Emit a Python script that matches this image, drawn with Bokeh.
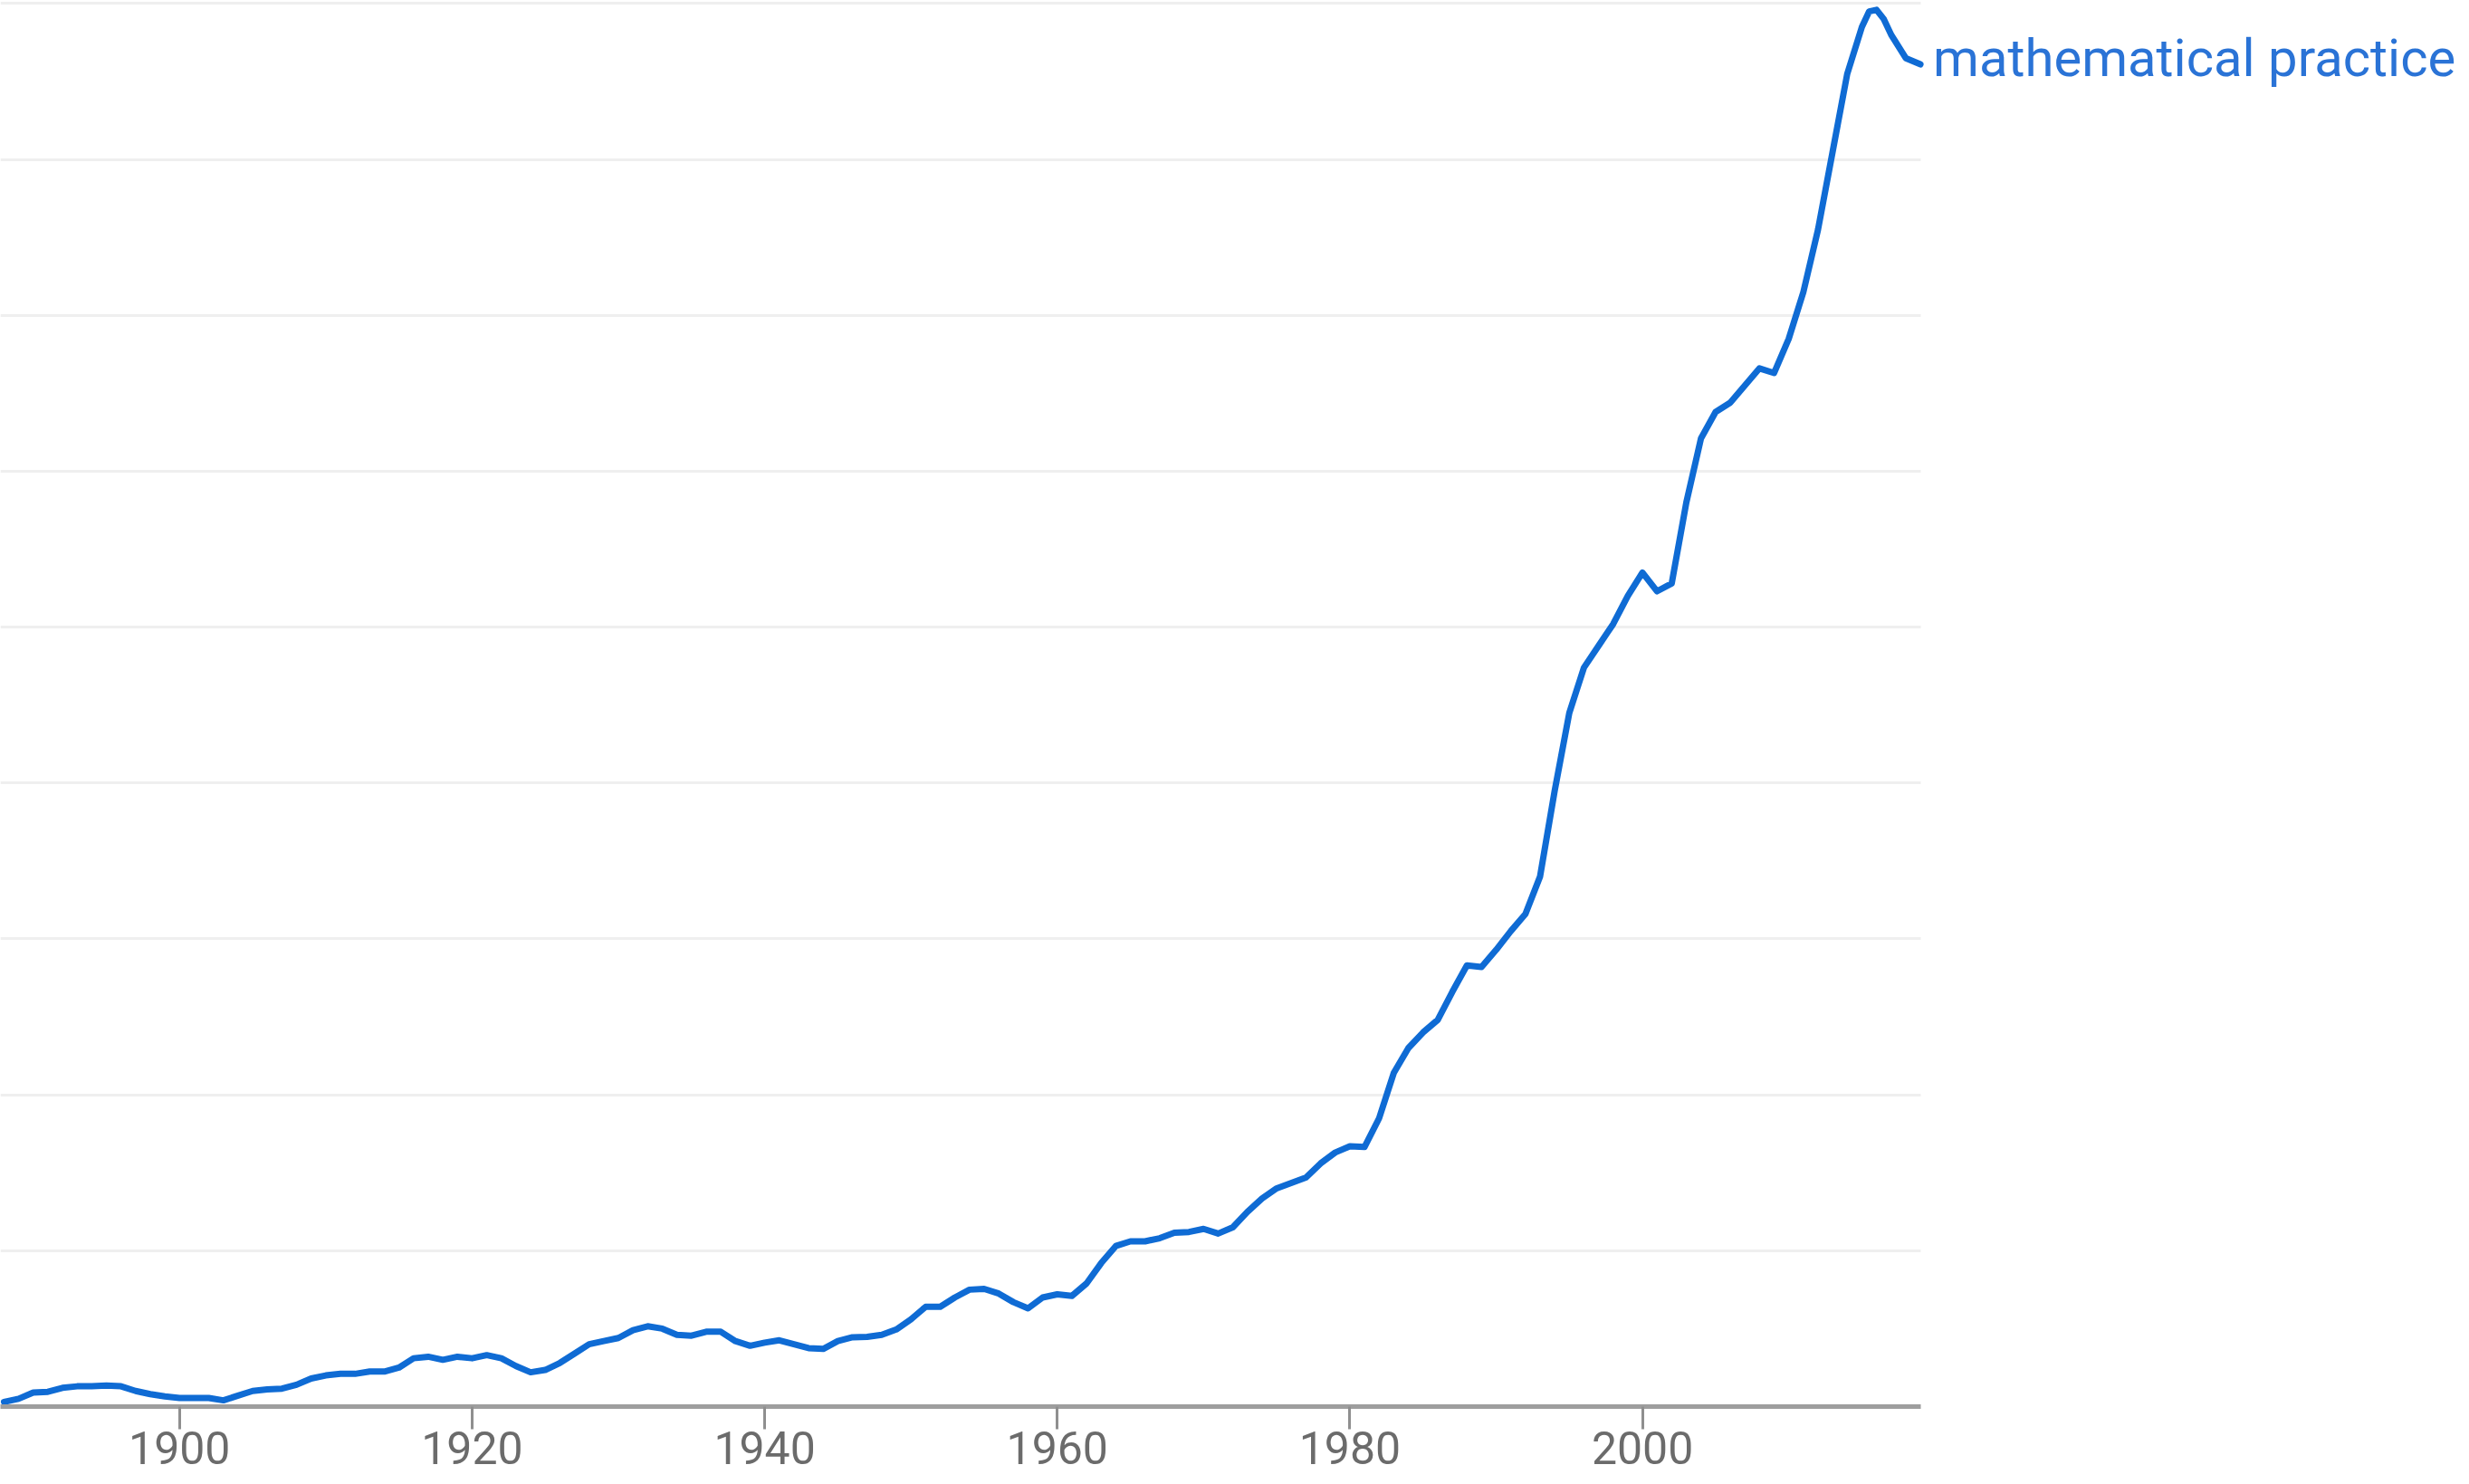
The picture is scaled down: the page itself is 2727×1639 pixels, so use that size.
from bokeh.plotting import figure
from bokeh.models import FixedTicker, Range1d
from bokeh.core.properties import value
from bokeh.embed import file_html
from bokeh.resources import INLINE

# ---- data (arbitrary relative units, gridline = 1) ----
years = list(range(1888, 2016)) + [2015.5, 2016, 2016.5, 2017, 2018, 2019]
values = [
    0.03, 0.05, 0.09, 0.095, 0.12, 0.13, 0.13, 0.135, 0.13, 0.10,          # 1888-1897
    0.08, 0.065, 0.055, 0.055, 0.055, 0.04, 0.07, 0.10, 0.11, 0.115,       # 1898-1907
    0.14, 0.18, 0.20, 0.21, 0.21, 0.225, 0.225, 0.25, 0.31, 0.32,          # 1908-1917
    0.30, 0.32, 0.31, 0.33, 0.31, 0.26, 0.22, 0.235, 0.28, 0.34,           # 1918-1927
    0.40, 0.42, 0.44, 0.49, 0.515, 0.50, 0.46, 0.455, 0.48, 0.48,          # 1928-1937
    0.42, 0.39, 0.41, 0.425, 0.40, 0.375, 0.37, 0.42, 0.445, 0.447,        # 1938-1947
    0.46, 0.495, 0.56, 0.64, 0.64, 0.70, 0.75, 0.755, 0.725, 0.67,         # 1948-1957
    0.63, 0.70, 0.72, 0.71, 0.79, 0.92, 1.03, 1.06, 1.06, 1.08,            # 1958-1967
    1.115, 1.12, 1.14, 1.11, 1.15, 1.25, 1.335, 1.40, 1.435, 1.47,         # 1968-1977
    1.56, 1.63, 1.67, 1.665, 1.85, 2.14, 2.30, 2.40, 2.48, 2.66,           # 1978-1987
    2.83, 2.82, 2.93, 3.05, 3.16, 3.40, 3.95, 4.45, 4.74, 4.88,            # 1988-1997
    5.02, 5.20, 5.35, 5.23, 5.28, 5.80, 6.21, 6.38, 6.44, 6.55,            # 1998-2007
    6.66, 6.63, 6.85, 7.15, 7.55, 8.05, 8.55, 8.85,                        # 2008-2015
    8.95, 8.96, 8.90, 8.80, 8.65, 8.61,                                    # 2015.5-2019
]
series_name = "mathematical practice"
x_ticks = [1900, 1920, 1940, 1960, 1980, 2000]
grid_levels = [1, 2, 3, 4, 5, 6, 7, 8, 9]

X_START, X_DATA_END, X_VIEW_END = 1887.76, 2019.0, 2056.53

LINE_COLOR = "#0f6bd4"
FONT = "Roboto"

p = figure(
    width=2727, height=1639,
    output_backend="svg", toolbar_location=None,
    x_range=Range1d(X_START, X_VIEW_END),
    y_range=Range1d(0, 9.02),
    y_axis_location=None,
    min_border_left=0, min_border_top=0, min_border_right=0,
    min_border_bottom=86,
)
p.outline_line_color = None
p.background_fill_color = "white"
p.border_fill_color = "white"

# grid
p.xgrid.grid_line_color = None
p.ygrid.ticker = FixedTicker(ticks=grid_levels)
p.ygrid.grid_line_color = "#efefef"
p.ygrid.grid_line_width = 3
p.ygrid.cross_bounds = (X_START, X_DATA_END)

# x axis
ax = p.xaxis[0]
ax.ticker = FixedTicker(ticks=x_ticks)
ax.bounds = (X_START, X_DATA_END)
ax.axis_line_color = "#9e9e9e"
ax.axis_line_width = 5
ax.major_tick_line_color = "#8f8f8f"
ax.major_tick_line_width = 3
ax.major_tick_out = 25
ax.major_tick_in = 0
ax.minor_tick_line_color = None
ax.major_label_standoff = 2
ax.major_label_text_font = FONT
ax.major_label_text_font_size = "50px"
ax.major_label_text_color = "#6b6b6b"

# the series
p.line(years, values, line_color=LINE_COLOR, line_width=7, line_join="round", line_cap="round")

p.text(
    x=[years[-1]], y=[values[-1]], text=[series_name],
    x_offset=14, y_offset=-7,
    text_baseline="alphabetic", text_align="left",
    text_font=value(FONT), text_font_size="58px", text_color="#2a73d6",
)

open("out.html", "w").write(file_html(p, INLINE))
